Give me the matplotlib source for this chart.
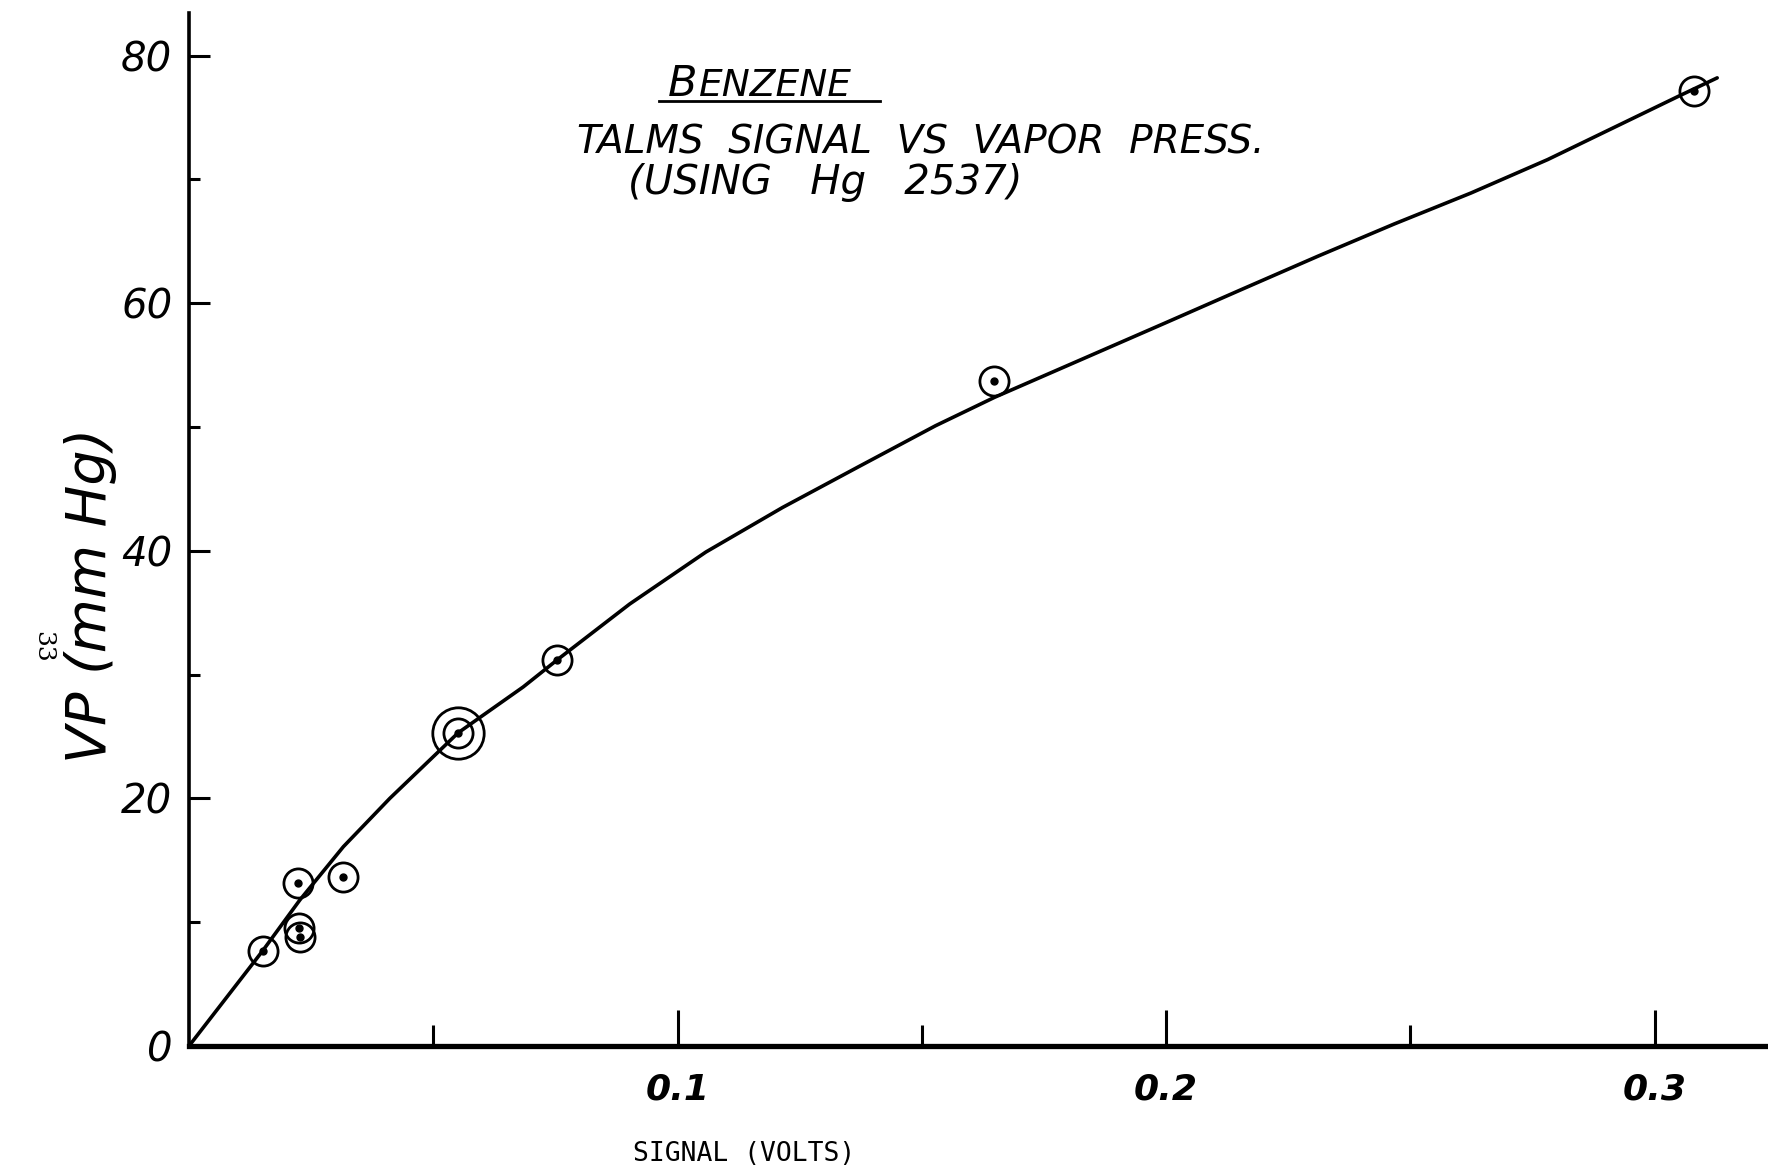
"""
Benzene: TALMS signal vs vapor pressure (hand-drawn chart recreation).
Writes out.png
"""

import matplotlib
matplotlib.use("Agg")
import matplotlib.pyplot as plt
from matplotlib.ticker import FixedLocator

# measured points (signal in volts, vapor pressure in mm Hg)
signal_v = [0.0151, 0.0224, 0.0226, 0.0227, 0.0316, 0.0551, 0.0754, 0.1647, 0.308]
vp_mmhg = [7.7, 13.15, 9.51, 8.83, 13.68, 25.27, 31.19, 53.68, 77.1]
double_ring = [5]   # the point drawn with an extra outer ring

# hand-drawn fit curve
curve_v = [0, 0.0151, 0.0227, 0.0316, 0.0411, 0.0551, 0.0684, 0.0754,
           0.0902, 0.1058, 0.1215, 0.1371, 0.1528, 0.1649, 0.1841, 0.1998,
           0.2154, 0.2311, 0.2467, 0.2624, 0.2781, 0.3048, 0.3128]
curve_p = [0, 7.7, 11.8, 16.1, 20.0, 25.3, 29.0, 31.2,
           35.7, 39.9, 43.5, 46.8, 50.1, 52.4, 55.7, 58.4,
           61.1, 63.8, 66.4, 68.9, 71.6, 76.7, 78.2]

x_major = [0.1, 0.2, 0.3]
x_major_labels = ["0.1", "0.2", "0.3"]
x_minor = [0.05, 0.15, 0.25]
y_major = [0, 20, 40, 60, 80]
y_major_labels = ["0", "20", "40", "60", "80"]
y_minor = [10, 30, 50, 70]

W, H = 1768, 1171
fig = plt.figure(figsize=(W / 100, H / 100), dpi=100)
fig.patch.set_facecolor("white")

ax = fig.add_axes([189 / W, 125 / H, 1 - 189 / W, (1046 - 13.5) / H])
ax.set_xlim(0, 0.3232)
ax.set_ylim(0, 83.4)

for s in ("top", "right"):
    ax.spines[s].set_visible(False)
ax.spines["left"].set_linewidth(2.6)
ax.spines["bottom"].set_linewidth(3.8)

ax.xaxis.set_major_locator(FixedLocator(x_major))
ax.xaxis.set_minor_locator(FixedLocator(x_minor))
ax.set_xticklabels(x_major_labels, fontsize=26, fontstyle="italic",
                   fontweight="bold")
ax.yaxis.set_major_locator(FixedLocator(y_major))
ax.yaxis.set_minor_locator(FixedLocator(y_minor))
ax.set_yticklabels(y_major_labels, fontsize=29, fontstyle="italic")

ax.tick_params(axis="x", which="major", direction="in", length=26, width=2.2,
               pad=19)
ax.tick_params(axis="x", which="minor", direction="in", length=15, width=2.2)
ax.tick_params(axis="y", which="major", direction="in", length=15, width=2.2,
               pad=12)
ax.tick_params(axis="y", which="minor", direction="in", length=8, width=2.2)

# fit curve
ax.plot(curve_v, curve_p, color="black", linewidth=2.6, solid_capstyle="round",
        solid_joinstyle="round", zorder=2)

# data points: open circle with a dot in the middle
ax.plot(signal_v, vp_mmhg, linestyle="none", marker="o", markersize=21,
        markerfacecolor="none", markeredgecolor="black", markeredgewidth=2.0,
        zorder=3)
ax.plot(signal_v, vp_mmhg, linestyle="none", marker="o", markersize=5,
        color="black", zorder=4)
ax.plot([signal_v[i] for i in double_ring], [vp_mmhg[i] for i in double_ring],
        linestyle="none", marker="o", markersize=37, markerfacecolor="none",
        markeredgecolor="black", markeredgewidth=2.0, zorder=3)

# hand-lettered title block
fig.text(668 / W, 1 - 96 / H, "B", fontsize=31, fontstyle="italic",
         ha="left", va="baseline")
fig.text(699 / W, 1 - 96 / H, "ENZENE", fontsize=27, fontstyle="italic",
         ha="left", va="baseline")
fig.add_artist(plt.Line2D([659 / W, 880 / W], [1 - 101 / H, 1 - 101 / H],
                          color="black", linewidth=2.0))
fig.text(577 / W, 1 - 153 / H, "TALMS  SIGNAL  VS  VAPOR  PRESS.",
         fontsize=28, fontstyle="italic", ha="left", va="baseline")
fig.text(628 / W, 1 - 194 / H, "(USING   Hg   2537)",
         fontsize=29, fontstyle="italic", ha="left", va="baseline")

# axis titles
fig.text(91 / W, 1 - 595 / H, "VP (mm Hg)", rotation=90, fontsize=40,
         fontstyle="italic", ha="center", va="center")
fig.text(744 / W, 1 - 1154 / H, "SIGNAL (VOLTS)", fontsize=19,
         family="DejaVu Sans Mono", ha="center", va="center")

# page number
fig.text(43 / W, 1 - 647 / H, "33", rotation=-90, fontsize=18,
         family="DejaVu Serif", ha="center", va="center")

fig.savefig("out.png", dpi=100, facecolor="white")
